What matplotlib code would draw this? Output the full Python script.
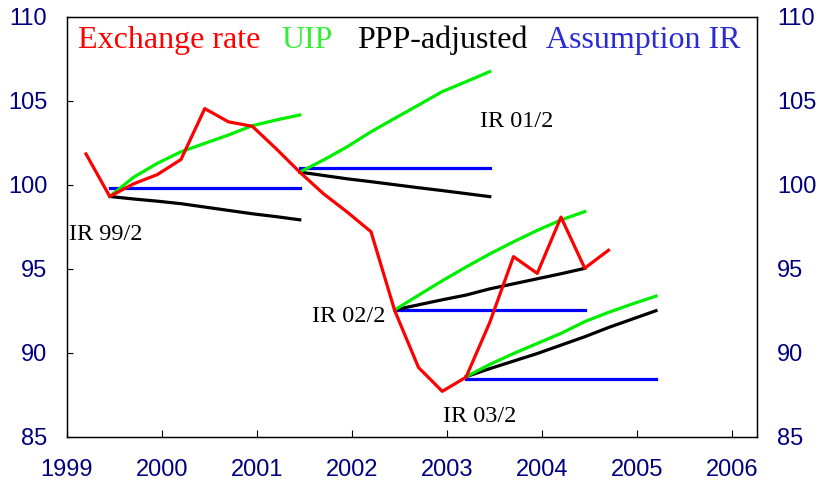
import matplotlib
matplotlib.use("Agg")
import matplotlib.pyplot as plt
import numpy as np

# Quarterly time axis (decimal years)
quarters = [1999.2 + 0.25 * k for k in range(25)]

exchange_rate = [101.83, 99.3, 100.05, 100.6, 101.5, 104.53, 103.74, 103.48,
                 102.15, 100.75, 99.46, 98.37, 97.2, 92.5, 89.12, 87.7, 88.54,
                 91.8, 95.72, 94.72, 98.07, 95.03, 96.1]

# Forecast vintages: start quarter index, UIP, PPP-adjusted, assumption IR level
ir_labels = ["IR 99/2", "IR 01/2", "IR 02/2", "IR 03/2"]
ir_start = [1, 9, 13, 16]
uip = [
    [99.3, 100.44, 101.27, 101.96, 102.46, 102.96, 103.51, 103.85, 104.15],
    [100.75, 101.47, 102.26, 103.15, 103.95, 104.74, 105.54, 106.13, 106.73],
    [92.55, 93.42, 94.28, 95.1, 95.88, 96.6, 97.28, 97.9, 98.4],
    [88.57, 89.3, 89.95, 90.55, 91.15, 91.85, 92.4, 92.9, 93.37],
]
ppp = [
    [99.3, 99.15, 99.02, 98.87, 98.67, 98.47, 98.27, 98.1, 97.91],
    [100.75, 100.55, 100.35, 100.18, 100.0, 99.82, 99.65, 99.47, 99.29],
    [92.55, 92.85, 93.15, 93.43, 93.8, 94.1, 94.4, 94.7, 95.02],
    [88.57, 89.05, 89.5, 89.95, 90.45, 90.95, 91.5, 92.0, 92.5],
]
assumption_ir = [99.79, 101.01, 92.52, 88.42]
label_pos = [(1999.02, 96.71), (2003.35, 103.43), (2001.58, 91.85), (2002.96, 85.89)]

year_ticks = list(range(1999, 2007))
y_ticks = [85, 90, 95, 100, 105, 110]

RED = "#ff0000"
GREEN = "#00ee00"
BLUE = "#0000ff"
NAVY = "#000080"
LW = 2.3

fig = plt.figure(figsize=(8.18, 4.83), dpi=100)
ax = fig.add_axes([67 / 818, 1 - 436.7 / 483, (756.7 - 67) / 818, (436.7 - 16.7) / 483])

ax.plot(quarters[:len(exchange_rate)], exchange_rate, color=RED, lw=LW, zorder=4)
for s, u, p, b in zip(ir_start, uip, ppp, assumption_ir):
    xs = quarters[s:s + len(u)]
    ax.plot(xs, [b] * len(xs), color=BLUE, lw=LW, zorder=3)
    ax.plot(xs, p, color="black", lw=LW, zorder=3)
    ax.plot(xs, u, color=GREEN, lw=LW, zorder=3)

serif = ["Liberation Serif", "DejaVu Serif"]
for lab, (lx, ly) in zip(ir_labels, label_pos):
    ax.text(lx, ly, lab, family=serif, fontsize=17.5, color="black",
            ha="left", va="baseline")

legend_items = [("Exchange rate", RED, 1999.116), ("UIP", "#33ee33", 2001.26),
                ("PPP-adjusted", "black", 2002.05), ("Assumption IR", "#2b2bd6", 2004.04)]
for txt, col, lx in legend_items:
    ax.text(lx, 108.14, txt, family=serif, fontsize=23, color=col,
            ha="left", va="baseline")

ax.set_xlim(1999, 2006.26)
ax.set_ylim(85, 110)
ax.set_xticks(year_ticks)
ax.set_xticklabels([str(y) for y in year_ticks])
ax.set_yticks(y_ticks)
ax.set_yticklabels([str(y) for y in y_ticks])

sans = ["Liberation Sans", "DejaVu Sans"]
ax.tick_params(axis="x", direction="in", length=5, width=0.8, pad=16,
               labelsize=17, labelcolor=NAVY, top=False)
ax.tick_params(axis="y", direction="in", length=4.5, width=0.8, pad=14.2,
               labelsize=17, labelcolor=NAVY, right=False)
for lab in ax.get_xticklabels() + ax.get_yticklabels():
    lab.set_family(sans)
for sp in ax.spines.values():
    sp.set_linewidth(1.0)

ax2 = ax.twinx()
ax2.set_ylim(85, 110)
ax2.set_yticks(y_ticks)
ax2.set_yticklabels([str(y) for y in y_ticks])
ax2.tick_params(axis="y", length=0, pad=14.6, labelsize=17, labelcolor=NAVY)
for lab in ax2.get_yticklabels():
    lab.set_family(sans)

fig.savefig("out.png", dpi=100)
